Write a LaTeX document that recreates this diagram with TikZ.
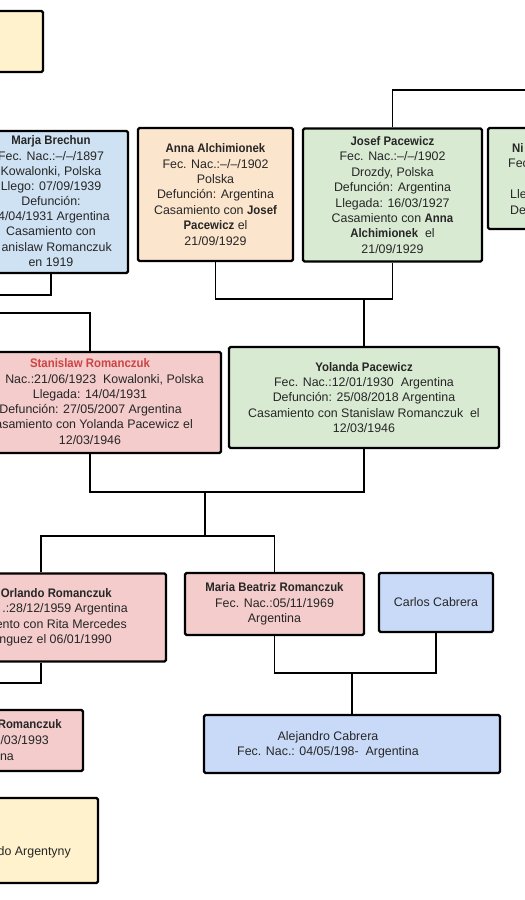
\documentclass[tikz,border=0pt]{standalone}
\usepackage{fontspec}
\setmainfont{Liberation Sans}[BoldFeatures={FakeStretch=0.92}]
\definecolor{txtc}{HTML}{262626}
\definecolor{cyel}{HTML}{FFF2CC}
\definecolor{cblu}{HTML}{CFE2F3}
\definecolor{cblv}{HTML}{C9DAF8}
\definecolor{cpea}{HTML}{FCE5CD}
\definecolor{cgrn}{HTML}{D9EAD3}
\definecolor{cpnk}{HTML}{F4CCCC}
\definecolor{cred}{HTML}{CC4444}
\newcommand\fsz{\fontsize{12.4}{15.4}\selectfont}
\begin{document}
\begin{tikzpicture}[x=1pt,y=-1pt,
  box/.style={draw=black,line width=2.2pt,rounded corners=1.5pt,inner sep=0pt,
    text=txtc,align=center,font=\fsz},
  tx/.style={inner sep=0pt,text=txtc,font=\fsz,text height=9pt,text depth=2.5pt},
  txb/.style={inner sep=0pt,text=txtc,font=\fsz,align=center},
  link/.style={draw=black,line width=1.4pt}]
\useasboundingbox (0,0) rectangle (525,900);
\clip (0,0) rectangle (525,900);
\fill[white] (0,0) rectangle (525,900);

% ---------- boxes ----------
\node[box,fill=cyel,minimum width=103pt,minimum height=61pt] (ytop) at (-8.5,41.5) {};
\node[box,fill=cblu,minimum width=154pt,minimum height=142pt] (marja) at (51,202) {};
\node[box,fill=cpea,minimum width=155pt,minimum height=133pt] (anna) at (215.5,194.5)
  {\textbf{Anna Alchimionek}\\Fec. Nac.:–/–/1902\\Polska\\Defunción: Argentina\\
   Casamiento con \textbf{Josef}\\\textbf{Pacewicz} el\\21/09/1929};
\node[box,fill=cgrn,minimum width=179pt,minimum height=133pt] (josef) at (392.5,195)
  {\textbf{Josef Pacewicz}\\Fec. Nac.:–/–/1902\\Drozdy, Polska\\Defunción: Argentina\\
   Llegada: 16/03/1927\\Casamiento con \textbf{Anna}\\\textbf{Alchimionek}\ \ el\\21/09/1929};
\node[box,fill=cgrn,minimum width=122pt,minimum height=101pt] (nic) at (549,178.5) {};
\node[box,fill=cpnk,minimum width=262pt,minimum height=101pt] (stan) at (90,402.5) {};
\node[box,fill=cgrn,minimum width=270pt,minimum height=101pt] (yol) at (364,397.5)
  {\textbf{Yolanda Pacewicz}\\Fec. Nac.:12/01/1930\ \ Argentina\\Defunción: 25/08/2018 Argentina\\
   Casamiento con Stanislaw Romanczuk\ \ el\\12/03/1946};
\node[box,fill=cpnk,minimum width=250pt,minimum height=88pt] (orl) at (41,617.5) {};
\node[box,fill=cpnk,minimum width=179pt,minimum height=62pt] (mbr) at (274.5,604)
  {\textbf{Maria Beatriz Romanczuk}\\Fec. Nac.:05/11/1969\\Argentina};
\node[box,fill=cblv,minimum width=114pt,minimum height=59pt] (car) at (436,602.5)
  {Carlos Cabrera};
\node[box,fill=cblv,minimum width=296pt,minimum height=58pt] (ale) at (352,744) {};
\node[box,fill=cpnk,minimum width=183pt,minimum height=61pt] (pbl) at (-8.5,740.5) {};
\node[box,fill=cyel,minimum width=198pt,minimum height=85pt] (ybl) at (-1,840.5) {};

% ---------- texts of cut boxes ----------
\node[tx] (m1) at (51,141) {\textbf{Marja Brechun}};
\node[tx] (m2) at (51,157) {Fec. Nac.:–/–/1897};
\node[tx] (m3) at (51,172) {Kowalonki, Polska};
\node[tx] (m4) at (51,187) {Llego: 07/09/1939};
\node[tx] (m5) at (51,202) {Defunción:};
\node[tx,anchor=east] (m6) at (110,217) {4/04/1931 Argentina};
\node[tx] (m7) at (51,232) {Casamiento con};
\node[tx,anchor=east] (m8) at (112,248) {anislaw Romanczuk};
\node[tx] (m9) at (51,263) {en 1919};

\node[tx,anchor=west] (n1) at (512,149) {\textbf{Ni}};
\node[tx,anchor=west] (n2) at (508,164) {Fec};
\node[tx,anchor=west] (n3) at (510,195) {Lle};
\node[tx,anchor=west] (n4) at (510,211) {De};

\node[tx,text=cred] (s1) at (90,364) {\textbf{Stanislaw Romanczuk}};
\node[tx,anchor=east] (s2) at (204,380) {Nac.:21/06/1923\ \ Kowalonki, Polska};
\node[tx] (s3) at (90,395) {Llegada: 14/04/1931};
\node[tx,anchor=east] (s4) at (182,410) {Defunción: 27/05/2007 Argentina};
\node[tx,anchor=east] (s5) at (193,425) {asamiento con Yolanda Pacewicz el};
\node[tx] (s6) at (90,441) {12/03/1946};

\node[tx,anchor=east] (o1) at (112,594) {\textbf{Orlando Romanczuk}};
\node[tx,anchor=east] (o2) at (128,609) {.:28/12/1959 Argentina};
\node[tx,anchor=east] (o3) at (127,625) {ento con Rita Mercedes};
\node[tx,anchor=east] (o4) at (112,640) {nguez el 06/01/1990};

\node[tx,anchor=east] (p1) at (62,725) {\textbf{Romanczuk}};
\node[tx,anchor=east] (p2) at (49,741) {/03/1993};
\node[tx,anchor=east] (p3) at (14,757) {na};

\node[tx,anchor=east] (b1) at (71,852) {do Argentyny};

\node[txb] (a1) at (328,745)
  {Alejandro Cabrera\\Fec. Nac.: 04/05/198-\ \ Argentina};

% ---------- connectors ----------
\coordinate (jR) at (540,90);
\draw[link] (josef.north) |- (jR);
\coordinate (y299) at (0,299);
\draw[link] (anna.south) |- (josef.south |- y299) -- (josef.south);
\draw[link] (yol.north |- y299) -- (yol.north);
\coordinate (mL) at (-5,295);
\draw[link] (marja.south) |- (mL);
\coordinate (sL) at (-5,313);
\draw[link] (sL) -| (stan.north);
\coordinate (y492) at (0,492);
\draw[link] (stan.south) |- (yol.south |- y492) -- (yol.south);
\coordinate (kA) at (205,492);
\coordinate (kB) at (205,536);
\draw[link] (kA) -- (kB);
\draw[link] (orl.north) |- (mbr.north |- kB) -- (mbr.north);
\coordinate (oL) at (-5,683);
\draw[link] (orl.south) |- (oL);
\coordinate (y673) at (0,673);
\draw[link] (mbr.south) |- (car.south |- y673) -- (car.south);
\draw[link] (ale.north |- y673) -- (ale.north);
\end{tikzpicture}
\end{document}
